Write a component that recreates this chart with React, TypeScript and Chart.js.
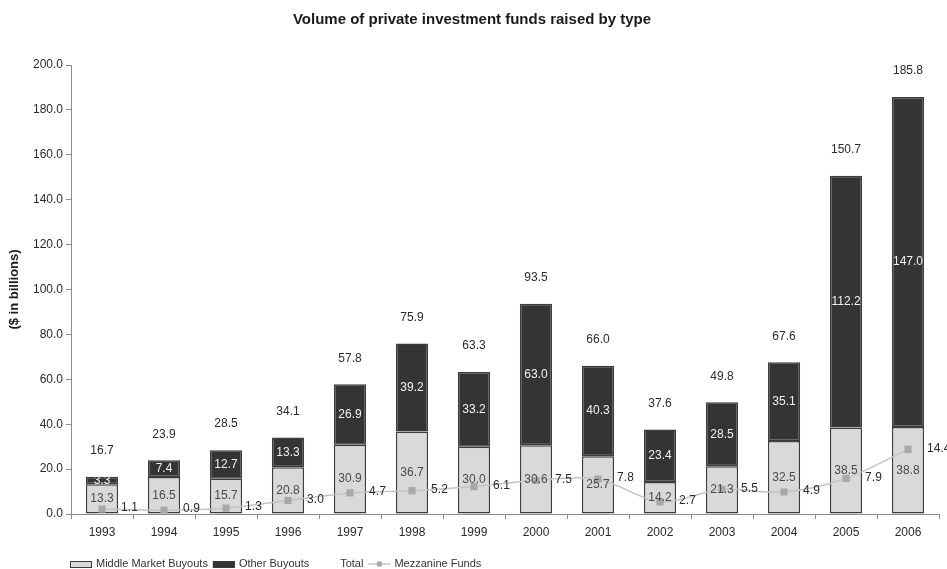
import React, { useEffect, useRef } from "react";
import { Chart, registerables } from "chart.js";

Chart.register(...registerables);

const years = ["1993", "1994", "1995", "1996", "1997", "1998", "1999", "2000", "2001", "2002", "2003", "2004", "2005", "2006"];
const middleMarketBuyouts = [13.3, 16.5, 15.7, 20.8, 30.9, 36.7, 30.0, 30.6, 25.7, 14.2, 21.3, 32.5, 38.5, 38.8];
const otherBuyouts = [3.3, 7.4, 12.7, 13.3, 26.9, 39.2, 33.2, 63.0, 40.3, 23.4, 28.5, 35.1, 112.2, 147.0];
const totals = [16.7, 23.9, 28.5, 34.1, 57.8, 75.9, 63.3, 93.5, 66.0, 37.6, 49.8, 67.6, 150.7, 185.8];
const mezzanineFunds = [1.1, 0.9, 1.3, 3.0, 4.7, 5.2, 6.1, 7.5, 7.8, 2.7, 5.5, 4.9, 7.9, 14.4];

const TITLE = "Volume of private investment funds raised by type";
const Y_TITLE = "($ in billions)";
const FONT = "'Liberation Sans', Arial, Helvetica, sans-serif";

const MID_FILL = "#d9d9d9";
const OTHER_FILL = "#353333";
const BAR_BORDER = "#3c3c3c";
const LINE_COLOR = "#c4c4c4";
const MARKER_COLOR = "#a8a8a8";
const TEXT = "#2a2a2a";

const valueLabels = {
  id: "valueLabels",
  afterDatasetsDraw(chart: any) {
    const ctx = chart.ctx;
    ctx.save();
    ctx.font = `12px ${FONT}`;
    ctx.textBaseline = "middle";
    const mid = chart.getDatasetMeta(0);
    const oth = chart.getDatasetMeta(1);
    const tot = chart.getDatasetMeta(2);
    const mez = chart.getDatasetMeta(3);
    for (let i = 0; i < years.length; i++) {
      const m = mid.data[i];
      const o = oth.data[i];
      ctx.textAlign = "center";
      ctx.fillStyle = "#4a4a4a";
      ctx.fillText(middleMarketBuyouts[i].toFixed(1), m.x, (m.y + m.base) / 2);
      ctx.fillStyle = "#f2f2f2";
      ctx.fillText(otherBuyouts[i].toFixed(1), o.x, (o.y + o.base) / 2);
      ctx.fillStyle = TEXT;
      ctx.fillText(totals[i].toFixed(1), tot.data[i].x, tot.data[i].y - 26);
      const p = mez.data[i];
      ctx.textAlign = "left";
      ctx.fillStyle = TEXT;
      ctx.fillText(mezzanineFunds[i].toFixed(1), m.x + m.width / 2 + 3, p.y - 1);
    }
    ctx.restore();
  },
};

const titleAndLegend = {
  id: "titleAndLegend",
  afterDraw(chart: any) {
    const ctx = chart.ctx;
    ctx.save();
    ctx.fillStyle = "#1a1a1a";
    ctx.font = `bold 15px ${FONT}`;
    ctx.textAlign = "center";
    ctx.textBaseline = "middle";
    ctx.fillText(TITLE, 472, 20);

    ctx.font = `11px ${FONT}`;
    ctx.textAlign = "left";
    const y = 564;
    let x = 70;
    const sw = 22;
    chart.data.datasets.forEach((ds: any, idx: number) => {
      if (idx === 0 || idx === 1) {
        ctx.fillStyle = idx === 0 ? MID_FILL : OTHER_FILL;
        ctx.fillRect(x, y - 3, sw, 7);
        ctx.strokeStyle = BAR_BORDER;
        ctx.lineWidth = 1;
        ctx.strokeRect(x + 0.5, y - 2.5, sw - 1, 6);
      } else if (idx === 3) {
        ctx.strokeStyle = LINE_COLOR;
        ctx.lineWidth = 1.5;
        ctx.beginPath();
        ctx.moveTo(x, y);
        ctx.lineTo(x + sw, y);
        ctx.stroke();
        ctx.fillStyle = MARKER_COLOR;
        ctx.fillRect(x + sw / 2 - 2.5, y - 2.5, 5, 5);
      }
      x += sw + 4;
      ctx.fillStyle = "#333";
      ctx.fillText(ds.label, x, y);
      x += ctx.measureText(ds.label).width + 5;
    });
    ctx.restore();
  },
};

export default function App() {
  const canvasRef = useRef<HTMLCanvasElement | null>(null);

  useEffect(() => {
    document.body.style.margin = "0";
    const canvas = canvasRef.current;
    if (!canvas) return;
    const chart = new Chart(canvas, {
      type: "bar",
      data: {
        labels: years,
        datasets: [
          {
            type: "bar",
            label: "Middle Market Buyouts",
            data: middleMarketBuyouts,
            backgroundColor: MID_FILL,
            borderColor: BAR_BORDER,
            borderWidth: 1.5,
            borderSkipped: false,
            stack: "buyouts",
            order: 1,
          },
          {
            type: "bar",
            label: "Other Buyouts",
            data: otherBuyouts,
            backgroundColor: OTHER_FILL,
            borderColor: BAR_BORDER,
            borderWidth: 1.5,
            borderSkipped: false,
            stack: "buyouts",
            order: 1,
          },
          {
            type: "line",
            label: "Total",
            data: totals,
            showLine: false,
            pointRadius: 0,
            borderColor: "rgba(0,0,0,0)",
            backgroundColor: "rgba(0,0,0,0)",
            stack: "total",
            order: 2,
          },
          {
            type: "line",
            label: "Mezzanine Funds",
            data: mezzanineFunds,
            yAxisID: "y2",
            borderColor: LINE_COLOR,
            borderWidth: 1.5,
            tension: 0.3,
            pointStyle: "rect",
            pointRadius: 4,
            pointBackgroundColor: MARKER_COLOR,
            pointBorderColor: MARKER_COLOR,
            stack: "mezz",
            order: 0,
          },
        ],
      } as any,
      options: {
        animation: false,
        responsive: false,
        events: [],
        layout: { padding: { top: 65, right: 8, bottom: 25, left: 0 } },
        datasets: { bar: { categoryPercentage: 1, barPercentage: 0.52 } },
        plugins: {
          legend: { display: false },
          tooltip: { enabled: false },
          title: { display: false },
        },
        scales: {
          x: {
            stacked: true,
            grid: {
              display: true,
              drawOnChartArea: false,
              drawTicks: true,
              tickLength: 5,
              color: "#8c8c8c",
              offset: true,
            },
            border: { display: true, color: "#8c8c8c", width: 1 },
            ticks: { color: TEXT, font: { family: FONT, size: 12 }, padding: 6, maxRotation: 0 },
            afterFit: (s: any) => {
              s.height = 30;
            },
          },
          y: {
            stacked: true,
            min: 0,
            max: 200,
            grid: {
              display: true,
              drawOnChartArea: false,
              drawTicks: true,
              tickLength: 5,
              color: "#8c8c8c",
            },
            border: { display: true, color: "#8c8c8c", width: 1 },
            ticks: {
              stepSize: 20,
              color: TEXT,
              font: { family: FONT, size: 12 },
              padding: 3,
              callback: (v: any) => Number(v).toFixed(1),
            },
            title: {
              display: true,
              text: Y_TITLE,
              color: "#1a1a1a",
              font: { family: FONT, size: 13, weight: "bold" },
              padding: { top: 7, bottom: 0 },
            },
            afterFit: (s: any) => {
              s.width = 71;
            },
          },
          y2: {
            display: false,
            stacked: false,
            min: 0,
            max: 100,
          },
        },
      } as any,
      plugins: [valueLabels, titleAndLegend],
    });
    return () => chart.destroy();
  }, []);

  return (
    <div style={{ width: 947, height: 569, position: "relative", background: "#fff" }}>
      <canvas ref={canvasRef} width={947} height={569} style={{ display: "block" }} />
    </div>
  );
}
